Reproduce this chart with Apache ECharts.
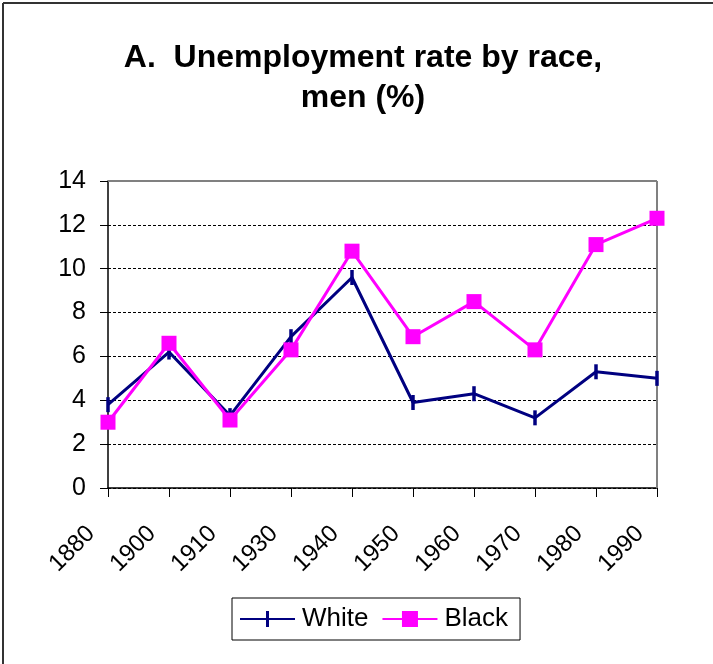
<!DOCTYPE html>
<html>
<head>
<meta charset="utf-8">
<script src="https://cdn.jsdelivr.net/npm/echarts@6/dist/echarts.min.js"></script>
<style>
  html, body { margin: 0; padding: 0; background: #fff; }
  #chart { width: 713px; height: 664px; }
</style>
</head>
<body>
<div id="chart"></div>
<script>
// Census decades and unemployment rates (%) for men
const years = ['1880', '1900', '1910', '1930', '1940', '1950', '1960', '1970', '1980', '1990'];
const whiteRates = [3.8, 6.2, 3.3, 6.9, 9.6, 3.9, 4.3, 3.2, 5.3, 5.0];
const blackRates = [3.0, 6.6, 3.1, 6.3, 10.8, 6.9, 8.5, 6.3, 11.1, 12.3];
const yTicks = { min: 0, max: 14, interval: 2 };

const FONT = '"Liberation Sans", Arial, sans-serif';

// legend icons: a line with a vertical dash, and a line with a square
const whiteIcon = 'path://M0,7 L55,7 L55,9 L0,9 Z M26,0 L29,0 L29,16 L26,16 Z';
const blackIcon = 'path://M0,7 L55,7 L55,9 L0,9 Z M19.5,0 L35.5,0 L35.5,16 L19.5,16 Z';

const chart = echarts.init(document.getElementById('chart'), null, { renderer: 'canvas' });

chart.setOption({
  backgroundColor: '#ffffff',
  animation: false,
  title: {
    text: 'A.  Unemployment rate by race,\nmen (%)',
    left: 363,
    textAlign: 'center',
    top: 38,
    padding: 0,
    textStyle: {
      fontFamily: FONT,
      fontSize: 32,
      fontWeight: 'bold',
      color: '#000',
      lineHeight: 40
    }
  },
  grid: { left: 108, right: 56, top: 181, bottom: 176, containLabel: false },
  xAxis: {
    type: 'category',
    data: years,
    boundaryGap: false,
    axisLine: { lineStyle: { color: '#000', width: 1.5 } },
    axisTick: { show: true, length: 9, alignWithLabel: true, lineStyle: { color: '#000', width: 1 } },
    axisLabel: {
      rotate: 45,
      interval: 0,
      margin: 25,
      padding: [0, 24, 0, 0],
      fontFamily: FONT,
      fontSize: 24,
      color: '#000'
    },
    splitLine: { show: false }
  },
  yAxis: {
    type: 'value',
    min: yTicks.min,
    max: yTicks.max,
    interval: yTicks.interval,
    axisLine: { show: true, lineStyle: { color: '#000', width: 1.5 } },
    axisTick: { show: true, length: 8, lineStyle: { color: '#000', width: 1 } },
    axisLabel: { fontFamily: FONT, fontSize: 25, color: '#000', margin: 22 },
    splitLine: { show: true, lineStyle: { color: '#000', type: [3, 2], width: 1 } }
  },
  legend: {
    left: 232,
    top: 598,
    orient: 'horizontal',
    itemWidth: 55,
    itemHeight: 16,
    itemGap: 14,
    padding: [8, 12, 8, 8],
    borderColor: '#000',
    borderWidth: 1,
    symbolKeepAspect: false,
    itemStyle: { borderWidth: 0 },
    textStyle: { fontFamily: FONT, fontSize: 26, lineHeight: 26, color: '#000', padding: [0, 0, 0, 2] },
    data: [
      { name: 'White', icon: whiteIcon },
      { name: 'Black', icon: blackIcon }
    ]
  },
  graphic: [
    // chart frame (top and left edges) and plot-area frame (top and right edges)
    { type: 'line', shape: { x1: 3, y1: 3, x2: 713, y2: 3 }, style: { stroke: '#333', lineWidth: 2 } },
    { type: 'line', shape: { x1: 3, y1: 3, x2: 3, y2: 664 }, style: { stroke: '#333', lineWidth: 2 } },
    { type: 'line', shape: { x1: 108, y1: 181, x2: 657, y2: 181 }, style: { stroke: '#808080', lineWidth: 2 }, z: 1 },
    { type: 'line', shape: { x1: 657, y1: 181, x2: 657, y2: 488 }, style: { stroke: '#808080', lineWidth: 2 }, z: 1 }
  ],
  series: [
    {
      name: 'White',
      type: 'line',
      data: whiteRates,
      symbol: 'rect',
      symbolSize: [3.5, 15],
      itemStyle: { color: '#000080' },
      lineStyle: { color: '#000080', width: 3 },
      z: 3
    },
    {
      name: 'Black',
      type: 'line',
      data: blackRates,
      symbol: 'rect',
      symbolSize: 15,
      itemStyle: { color: '#ff00ff' },
      lineStyle: { color: '#ff00ff', width: 3 },
      z: 4
    }
  ]
});
</script>
</body>
</html>
